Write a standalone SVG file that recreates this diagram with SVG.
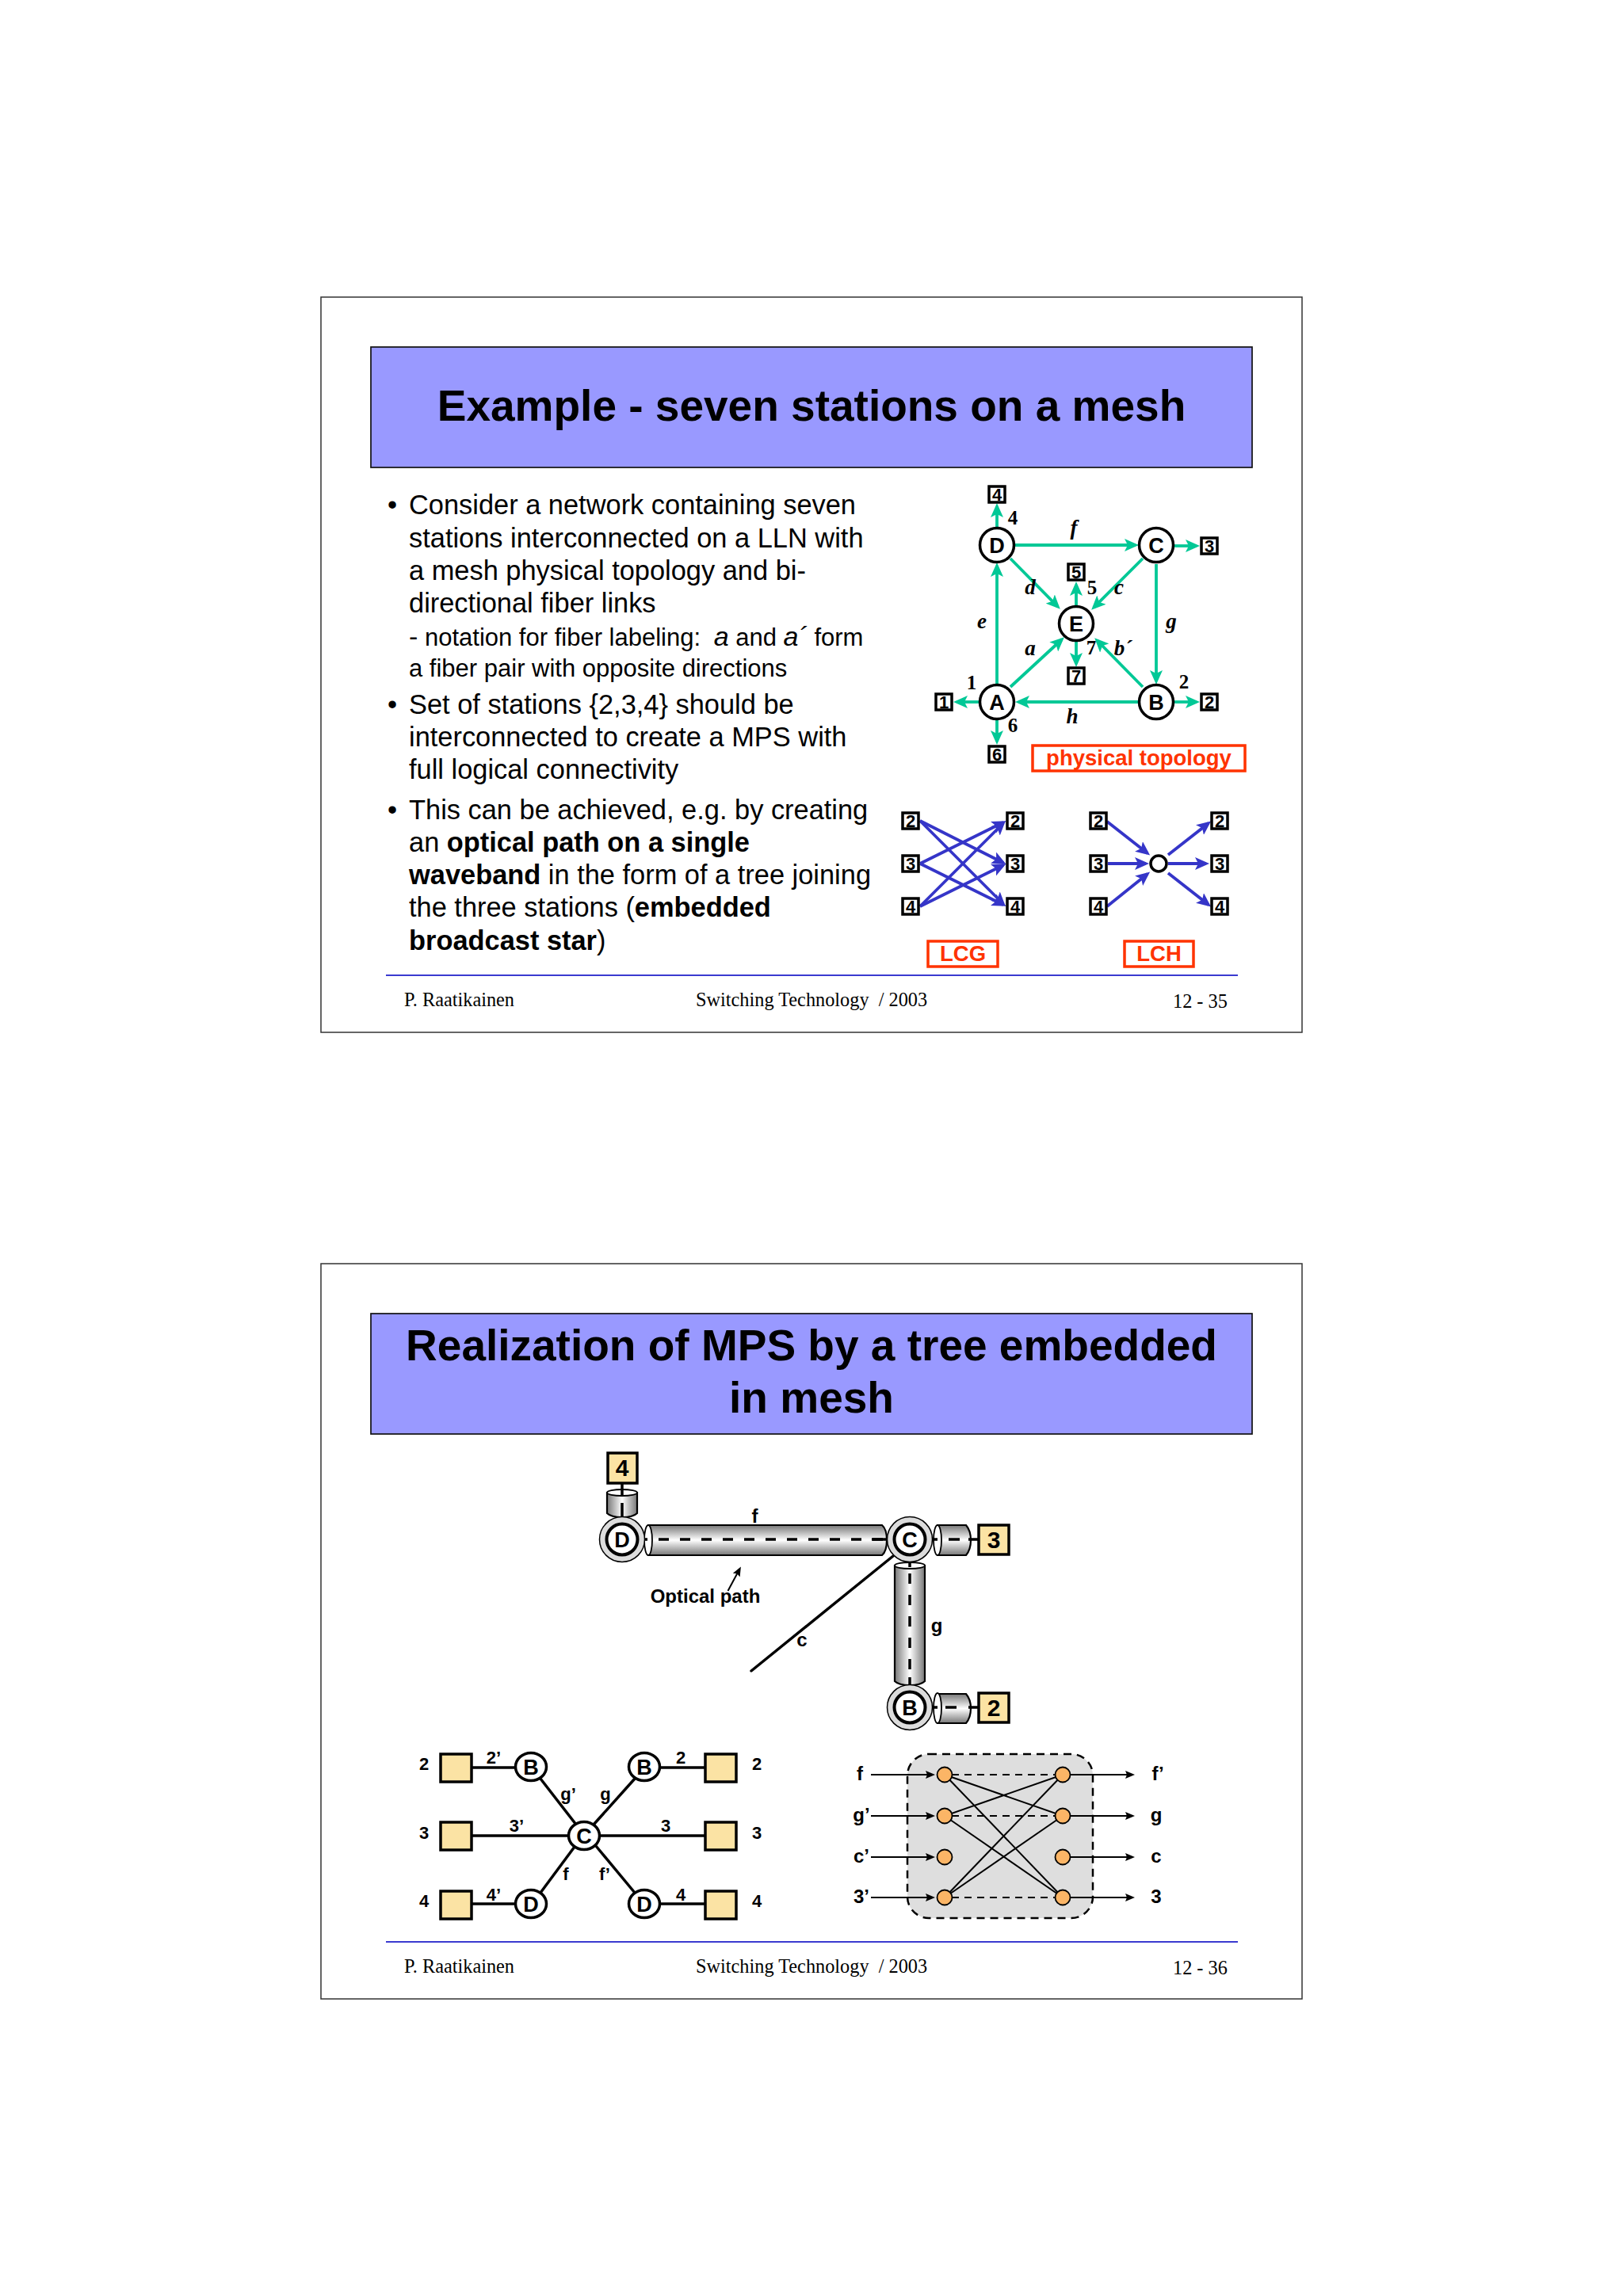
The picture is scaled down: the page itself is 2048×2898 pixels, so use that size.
<svg xmlns="http://www.w3.org/2000/svg" width="2048" height="2898" viewBox="0 0 2048 2898">
<style>
text{font-family:"Liberation Sans",Arial,sans-serif;fill:#000}
.frame{fill:#fff;stroke:#333;stroke-width:1.5}
.tb{fill:#9999ff;stroke:#111;stroke-width:1.7}
.title{font-size:55px;font-weight:700;text-anchor:middle}
.body{font-size:34.4px}
.sub{font-size:31px}
.b{font-weight:700}
.foot{font-family:"Liberation Serif",serif;font-size:24.3px}
.rule{stroke:#3a3ad0;stroke-width:2}
.ln{font-weight:700;font-size:27px;text-anchor:middle}
.sq{fill:#fff;stroke:#000;stroke-width:3.5}
.sqt{font-weight:700;font-size:22px;text-anchor:middle}
.node{fill:#fff;stroke:#000;stroke-width:3.5}
.tag{fill:none;stroke:#ff3300;stroke-width:3.5}
.tagt{font-weight:700;font-size:27.5px;fill:#ff3300;text-anchor:middle}
.gr{stroke:#00c896;stroke-width:3.8;fill:none;marker-end:url(#ag)}
.bl{stroke:#3535c8;stroke-width:3.8;fill:none;marker-end:url(#ab)}
.ti{font-family:"Liberation Serif",serif;font-weight:700;font-style:italic;font-size:27px;text-anchor:middle}
.tn{font-family:"Liberation Serif",serif;font-weight:700;font-size:25px;text-anchor:middle}
.ys{fill:#fbe3a4;stroke:#000;stroke-width:3.5}
.ring{fill:#dcdcdc;stroke:#000;stroke-width:1.5}
.inner{fill:#fff;stroke:#000;stroke-width:4}
.bk{stroke:#000;stroke-width:3.5;fill:none}
.dash{stroke:#000;stroke-width:3.5;fill:none;stroke-dasharray:13 14}
.cyl{stroke:#000;stroke-width:2.2}
.cap{fill:#fff;stroke:#000;stroke-width:1.8}
.lb{font-weight:700;font-size:24px;text-anchor:middle}
.lb2{font-weight:700;font-size:22px;text-anchor:middle}
.thin{stroke:#000;stroke-width:2;fill:none}
.td{stroke:#000;stroke-width:2;fill:none;stroke-dasharray:9 7}
.or{fill:#fbb566;stroke:#000;stroke-width:1.8}
.ar{stroke:#000;stroke-width:2;fill:none;marker-end:url(#ak)}
</style>
<defs>
<marker id="ag" markerUnits="userSpaceOnUse" markerWidth="19" markerHeight="16" refX="14" refY="8" orient="auto"><path d="M0 0L18 8L0 16L4 8Z" fill="#00c896"/></marker>
<marker id="ab" markerUnits="userSpaceOnUse" markerWidth="19" markerHeight="16" refX="14" refY="8" orient="auto"><path d="M0 0L18 8L0 16L4 8Z" fill="#3535c8"/></marker>
<marker id="ak" markerUnits="userSpaceOnUse" markerWidth="13" markerHeight="12" refX="8" refY="6" orient="auto"><path d="M0 1L12 6L0 11L2 6Z" fill="#000"/></marker>
<linearGradient id="gh" x1="0" y1="0" x2="0" y2="1"><stop offset="0" stop-color="#777"/><stop offset=".3" stop-color="#c8c8c8"/><stop offset=".5" stop-color="#fff"/><stop offset=".7" stop-color="#c8c8c8"/><stop offset="1" stop-color="#777"/></linearGradient>
<linearGradient id="gv" x1="0" y1="0" x2="1" y2="0"><stop offset="0" stop-color="#777"/><stop offset=".3" stop-color="#c8c8c8"/><stop offset=".5" stop-color="#fff"/><stop offset=".7" stop-color="#c8c8c8"/><stop offset="1" stop-color="#777"/></linearGradient>
</defs>
<rect width="2048" height="2898" fill="#fff"/>

<g id="slide-35">
<rect class="frame" x="405" y="375" width="1238" height="928"/>
<rect class="tb" x="468" y="438" width="1112" height="152"/>
<text class="title" x="1024" y="531">Example - seven stations on a mesh</text>
<g id="body-35">
<text class="body" x="489" y="649">•</text>
<text class="body" x="516" y="649">Consider a network containing seven</text>
<text class="body" x="516" y="691">stations interconnected on a LLN with</text>
<text class="body" x="516" y="732">a mesh physical topology and bi-</text>
<text class="body" x="516" y="773">directional fiber links</text>
<text class="sub" x="516" y="815"><tspan font-size="34">-</tspan> notation for fiber labeling:  <tspan dx="8" font-style="italic" font-size="34">a</tspan> and <tspan font-style="italic" font-size="34">a´</tspan> form</text>
<text class="sub" x="516" y="854">a fiber pair with opposite directions</text>
<text class="body" x="489" y="901">•</text>
<text class="body" x="516" y="901">Set of stations {2,3,4} should be</text>
<text class="body" x="516" y="942">interconnected to create a MPS with</text>
<text class="body" x="516" y="983">full logical connectivity</text>
<text class="body" x="489" y="1034">•</text>
<text class="body" x="516" y="1034">This can be achieved, e.g. by creating</text>
<text class="body" x="516" y="1075">an <tspan class="b">optical path on a single</tspan></text>
<text class="body" x="516" y="1116"><tspan class="b">waveband</tspan> in the form of a tree joining</text>
<text class="body" x="516" y="1157">the three stations (<tspan class="b">embedded</tspan></text>
<text class="body" x="516" y="1199"><tspan class="b">broadcast star</tspan>)</text>
</g>
<line class="rule" x1="487" y1="1231" x2="1562" y2="1231"/>
<text class="foot" x="510" y="1270">P. Raatikainen</text>
<text class="foot" x="878" y="1270" xml:space="preserve">Switching Technology  / 2003</text>
<text class="foot" x="1480" y="1272">12 - 35</text>
</g>

<g id="connectors-topology">
<line class="gr" x1="1280" y1="688" x2="1433" y2="688"/>
<line class="gr" x1="1258" y1="864" x2="1258" y2="714"/>
<line class="gr" x1="1275" y1="705" x2="1335" y2="766"/>
<line class="gr" x1="1442" y1="705" x2="1380" y2="767"/>
<line class="gr" x1="1275" y1="867" x2="1340" y2="807"/>
<line class="gr" x1="1442" y1="867" x2="1384" y2="808"/>
<line class="gr" x1="1459" y1="712" x2="1459" y2="860"/>
<line class="gr" x1="1436" y1="886" x2="1285" y2="886"/>
<line class="gr" x1="1258" y1="667" x2="1258" y2="639"/>
<line class="gr" x1="1482" y1="689" x2="1510" y2="689"/>
<line class="gr" x1="1358" y1="765" x2="1358" y2="738"/>
<line class="gr" x1="1358" y1="809" x2="1358" y2="838"/>
<line class="gr" x1="1235" y1="886" x2="1207" y2="886"/>
<line class="gr" x1="1482" y1="886" x2="1510" y2="886"/>
<line class="gr" x1="1258" y1="908" x2="1258" y2="936"/>
</g>
<g id="labels-topology">
<text class="ti" x="1355" y="675">f</text><text class="ti" x="1300" y="750">d</text><text class="ti" x="1412" y="750">c</text><text class="ti" x="1239" y="793">e</text><text class="ti" x="1478" y="793">g</text><text class="ti" x="1300" y="827">a</text><text class="ti" x="1417" y="827">b´</text><text class="ti" x="1353" y="913">h</text>
<text class="tn" x="1278" y="662">4</text><text class="tn" x="1378" y="750">5</text><text class="tn" x="1377" y="826">7</text><text class="tn" x="1226" y="870">1</text><text class="tn" x="1494" y="869">2</text><text class="tn" x="1278" y="924">6</text>
</g>
<g id="node-D"><circle class="node" cx="1258" cy="688" r="21.5"/><text class="ln" x="1258" y="697.500">D</text></g>
<g id="node-C"><circle class="node" cx="1459" cy="688" r="21.5"/><text class="ln" x="1459" y="697.500">C</text></g>
<g id="node-E"><circle class="node" cx="1358" cy="787" r="21.5"/><text class="ln" x="1358" y="796.500">E</text></g>
<g id="node-A"><circle class="node" cx="1258" cy="886" r="21.5"/><text class="ln" x="1258" y="895.500">A</text></g>
<g id="node-B"><circle class="node" cx="1459" cy="886" r="21.5"/><text class="ln" x="1459" y="895.500">B</text></g>
<g id="st-4"><rect class="sq" x="1248" y="614" width="20" height="20"/><text class="sqt" x="1258" y="632">4</text></g>
<g id="st-3"><rect class="sq" x="1516" y="679" width="20" height="20"/><text class="sqt" x="1526" y="697">3</text></g>
<g id="st-5"><rect class="sq" x="1348" y="712" width="20" height="20"/><text class="sqt" x="1358" y="730">5</text></g>
<g id="st-7"><rect class="sq" x="1348" y="843" width="20" height="20"/><text class="sqt" x="1358" y="861">7</text></g>
<g id="st-1"><rect class="sq" x="1181" y="876" width="20" height="20"/><text class="sqt" x="1191" y="894">1</text></g>
<g id="st-2"><rect class="sq" x="1516" y="876" width="20" height="20"/><text class="sqt" x="1526" y="894">2</text></g>
<g id="st-6"><rect class="sq" x="1248" y="942" width="20" height="20"/><text class="sqt" x="1258" y="960">6</text></g>
<g id="tag-physical"><rect class="tag" x="1303" y="941" width="268" height="32"/><text class="tagt" x="1437" y="966">physical topology</text></g>

<g id="connectors-lcg">
<line class="bl" x1="1161" y1="1036" x2="1266" y2="1089"/>
<line class="bl" x1="1161" y1="1036" x2="1266" y2="1141"/>
<line class="bl" x1="1161" y1="1090" x2="1266" y2="1038"/>
<line class="bl" x1="1161" y1="1090" x2="1266" y2="1142"/>
<line class="bl" x1="1161" y1="1144" x2="1266" y2="1039"/>
<line class="bl" x1="1161" y1="1144" x2="1266" y2="1092"/>
</g>
<g id="connectors-lch">
<line class="bl" x1="1397" y1="1037" x2="1448" y2="1077"/>
<line class="bl" x1="1398" y1="1090" x2="1446" y2="1090"/>
<line class="bl" x1="1397" y1="1144" x2="1448" y2="1103"/>
<line class="bl" x1="1474" y1="1079" x2="1525" y2="1039"/>
<line class="bl" x1="1474" y1="1090" x2="1522" y2="1090"/>
<line class="bl" x1="1474" y1="1102" x2="1525" y2="1142"/>
</g>
<g id="lcg-l2"><rect class="sq" x="1139" y="1026" width="20" height="20"/><text class="sqt" x="1149" y="1044">2</text></g>
<g id="lcg-l3"><rect class="sq" x="1139" y="1080" width="20" height="20"/><text class="sqt" x="1149" y="1098">3</text></g>
<g id="lcg-l4"><rect class="sq" x="1139" y="1134" width="20" height="20"/><text class="sqt" x="1149" y="1152">4</text></g>
<g id="lcg-r2"><rect class="sq" x="1271" y="1026" width="20" height="20"/><text class="sqt" x="1281" y="1044">2</text></g>
<g id="lcg-r3"><rect class="sq" x="1271" y="1080" width="20" height="20"/><text class="sqt" x="1281" y="1098">3</text></g>
<g id="lcg-r4"><rect class="sq" x="1271" y="1134" width="20" height="20"/><text class="sqt" x="1281" y="1152">4</text></g>
<g id="lch-l2"><rect class="sq" x="1376" y="1026" width="20" height="20"/><text class="sqt" x="1386" y="1044">2</text></g>
<g id="lch-l3"><rect class="sq" x="1376" y="1080" width="20" height="20"/><text class="sqt" x="1386" y="1098">3</text></g>
<g id="lch-l4"><rect class="sq" x="1376" y="1134" width="20" height="20"/><text class="sqt" x="1386" y="1152">4</text></g>
<g id="lch-r2"><rect class="sq" x="1529" y="1026" width="20" height="20"/><text class="sqt" x="1539" y="1044">2</text></g>
<g id="lch-r3"><rect class="sq" x="1529" y="1080" width="20" height="20"/><text class="sqt" x="1539" y="1098">3</text></g>
<g id="lch-r4"><rect class="sq" x="1529" y="1134" width="20" height="20"/><text class="sqt" x="1539" y="1152">4</text></g>
<g id="lch-hub"><circle class="node" cx="1462" cy="1090" r="10"/></g>
<g id="tag-lcg"><rect class="tag" x="1171" y="1188" width="88" height="32"/><text class="tagt" x="1215" y="1213">LCG</text></g>
<g id="tag-lch"><rect class="tag" x="1419" y="1188" width="87" height="32"/><text class="tagt" x="1462.500" y="1213">LCH</text></g>

<g id="slide-36-frame">
<rect class="frame" x="405" y="1595" width="1238" height="928"/>
<rect class="tb" x="468" y="1658" width="1112" height="152"/>
<text class="title" x="1024" y="1717">Realization of MPS by a tree embedded</text>
<text class="title" x="1024" y="1783">in mesh</text>
<line class="rule" x1="487" y1="2451" x2="1562" y2="2451"/>
<text class="foot" x="510" y="2490">P. Raatikainen</text>
<text class="foot" x="878" y="2490" xml:space="preserve">Switching Technology  / 2003</text>
<text class="foot" x="1480" y="2492">12 - 36</text>
</g>

<g id="fibers">
<path class="cyl" fill="url(#gh)" d="M818 1925H1113Q1119 1930 1119 1944Q1119 1958 1113 1963H818Z"/>
<ellipse class="cap" cx="818" cy="1944" rx="5" ry="19"/>
<line class="bk" x1="804" y1="1943" x2="817" y2="1943"/>
<line class="dash" x1="831" y1="1943" x2="1118" y2="1943"/>
<line class="bk" x1="1100" y1="1943" x2="1128" y2="1943"/>
<path class="cyl" fill="url(#gh)" d="M1183 1925H1219Q1225 1932 1225 1944Q1225 1956 1219 1963H1183Z"/>
<ellipse class="cap" cx="1183" cy="1944" rx="5" ry="19"/>
<line class="bk" x1="1168" y1="1943" x2="1183" y2="1943"/>
<line class="bk" x1="1197" y1="1943" x2="1211" y2="1943"/>
<line class="bk" x1="1222" y1="1943" x2="1234" y2="1943"/>
<path class="cyl" fill="url(#gh)" d="M1183 2138H1219Q1225 2145 1225 2156Q1225 2168 1219 2175H1183Z"/>
<ellipse class="cap" cx="1183" cy="2156" rx="5" ry="19"/>
<line class="bk" x1="1168" y1="2155" x2="1183" y2="2155"/>
<line class="bk" x1="1193" y1="2155" x2="1207" y2="2155"/>
<line class="bk" x1="1222" y1="2155" x2="1234" y2="2155"/>
<path class="cyl" fill="url(#gv)" d="M766 1884V1910Q771 1915 785 1915Q799 1915 804 1910V1884Z"/>
<ellipse class="cap" cx="785" cy="1884" rx="19" ry="4"/>
<line class="bk" x1="785" y1="1870" x2="785" y2="1887"/>
<line class="bk" x1="785" y1="1897" x2="785" y2="1918"/>
<path class="cyl" fill="url(#gv)" d="M1129 1976V2122Q1134 2127 1148 2127Q1162 2127 1167 2122V1976Z"/>
<ellipse class="cap" cx="1148" cy="1976" rx="19" ry="4"/>
<line class="bk" x1="1148" y1="1960" x2="1148" y2="1978"/>
<line class="dash" x1="1148" y1="1986" x2="1148" y2="2114"/>
<line class="bk" x1="1148" y1="2117" x2="1148" y2="2135"/>
</g>
<g id="connectors-tree">
<line class="bk" x1="1127" y1="1964" x2="948" y2="2109" stroke-linecap="round"/>
<line class="ar" x1="918.500" y1="2008" x2="933" y2="1981"/>
</g>
<g id="tree-D"><circle class="ring" cx="785" cy="1943" r="28.500"/><circle class="inner" cx="785" cy="1943" r="19.500"/><text class="ln" x="785" y="1952.500">D</text></g>
<g id="tree-C"><circle class="ring" cx="1148" cy="1943" r="28.500"/><circle class="inner" cx="1148" cy="1943" r="19.500"/><text class="ln" x="1148" y="1952.500">C</text></g>
<g id="tree-B"><circle class="ring" cx="1148" cy="2155" r="28.500"/><circle class="inner" cx="1148" cy="2155" r="19.500"/><text class="ln" x="1148" y="2164.500">B</text></g>
<g id="tree-4"><rect class="ys" x="767" y="1834" width="37" height="38"/><text class="lb" x="785" y="1863" style="font-size:30px">4</text></g>
<g id="tree-3"><rect class="ys" x="1235" y="1925" width="38" height="37"/><text class="lb" x="1254" y="1954" style="font-size:30px">3</text></g>
<g id="tree-2"><rect class="ys" x="1235" y="2137" width="38" height="37"/><text class="lb" x="1254" y="2166" style="font-size:30px">2</text></g>
<g id="labels-tree">
<text class="lb" x="952.500" y="1922">f</text><text class="lb" x="1182" y="2060">g</text><text class="lb" x="1012" y="2078">c</text><text class="lb" x="890" y="2023">Optical path</text>
</g>

<g id="connectors-star">
<line class="bk" x1="596" y1="2231" x2="650" y2="2231"/>
<line class="bk" x1="596" y1="2317" x2="717" y2="2317"/>
<line class="bk" x1="596" y1="2403" x2="650" y2="2403"/>
<line class="bk" x1="833" y1="2231" x2="889" y2="2231"/>
<line class="bk" x1="757" y1="2317" x2="889" y2="2317"/>
<line class="bk" x1="833" y1="2403" x2="889" y2="2403"/>
<line class="bk" x1="682" y1="2245" x2="727" y2="2303"/>
<line class="bk" x1="801" y1="2245" x2="749" y2="2303"/>
<line class="bk" x1="682" y1="2389" x2="725" y2="2331"/>
<line class="bk" x1="801" y1="2389" x2="752" y2="2330"/>
</g>
<g id="star-sq-l2"><rect class="ys" x="556" y="2214" width="39" height="35"/></g>
<g id="star-sq-l3"><rect class="ys" x="556" y="2300" width="39" height="35"/></g>
<g id="star-sq-l4"><rect class="ys" x="556" y="2387" width="39" height="35"/></g>
<g id="star-sq-r2"><rect class="ys" x="890" y="2214" width="39" height="35"/></g>
<g id="star-sq-r3"><rect class="ys" x="890" y="2300" width="39" height="35"/></g>
<g id="star-sq-r4"><rect class="ys" x="890" y="2387" width="39" height="35"/></g>
<g id="star-B1"><ellipse class="node" cx="670" cy="2230" rx="19.500" ry="17.500"/><text class="ln" x="670" y="2239.500">B</text></g>
<g id="star-B2"><ellipse class="node" cx="813" cy="2230" rx="19.500" ry="17.500"/><text class="ln" x="813" y="2239.500">B</text></g>
<g id="star-C"><ellipse class="node" cx="737" cy="2317" rx="19.500" ry="17.500"/><text class="ln" x="737" y="2326.500">C</text></g>
<g id="star-D1"><ellipse class="node" cx="670" cy="2403" rx="19.500" ry="17.500"/><text class="ln" x="670" y="2412.500">D</text></g>
<g id="star-D2"><ellipse class="node" cx="813" cy="2403" rx="19.500" ry="17.500"/><text class="ln" x="813" y="2412.500">D</text></g>
<g id="labels-star">
<text class="lb2" x="535" y="2234">2</text><text class="lb2" x="535" y="2321">3</text><text class="lb2" x="535" y="2407">4</text>
<text class="lb2" x="955" y="2234">2</text><text class="lb2" x="955" y="2321">3</text><text class="lb2" x="955" y="2407">4</text>
<text class="lb2" x="623" y="2226">2’</text><text class="lb2" x="652" y="2312">3’</text><text class="lb2" x="623" y="2399">4’</text>
<text class="lb2" x="859" y="2226">2</text><text class="lb2" x="840" y="2312">3</text><text class="lb2" x="859" y="2399">4</text>
<text class="lb2" x="717" y="2272">g’</text><text class="lb2" x="764" y="2272">g</text><text class="lb2" x="714" y="2373">f</text><text class="lb2" x="763" y="2373">f’</text>
</g>

<g id="switch-box"><rect x="1145" y="2214" width="234" height="207" rx="27" fill="#dedede" stroke="#000" stroke-width="2.5" stroke-dasharray="10 7"/></g>
<g id="connectors-switch">
<line class="thin" x1="1192" y1="2240" x2="1341" y2="2292"/><line class="thin" x1="1192" y1="2240" x2="1341" y2="2395"/>
<line class="thin" x1="1192" y1="2292" x2="1341" y2="2240"/><line class="thin" x1="1192" y1="2292" x2="1341" y2="2395"/>
<line class="thin" x1="1192" y1="2395" x2="1341" y2="2240"/><line class="thin" x1="1192" y1="2395" x2="1341" y2="2292"/>
<line class="td" x1="1201" y1="2240" x2="1332" y2="2240"/><line class="td" x1="1201" y1="2292" x2="1332" y2="2292"/><line class="td" x1="1201" y1="2395" x2="1332" y2="2395"/>
<line class="ar" x1="1099" y1="2240" x2="1176" y2="2240"/><line class="ar" x1="1099" y1="2292" x2="1176" y2="2292"/><line class="ar" x1="1099" y1="2344" x2="1176" y2="2344"/><line class="ar" x1="1099" y1="2395" x2="1176" y2="2395"/>
<line class="ar" x1="1350" y1="2240" x2="1428" y2="2240"/><line class="ar" x1="1350" y1="2292" x2="1428" y2="2292"/><line class="ar" x1="1350" y1="2344" x2="1428" y2="2344"/><line class="ar" x1="1350" y1="2395" x2="1428" y2="2395"/>
</g>
<g id="sw-l1"><circle class="or" cx="1192" cy="2240" r="9.500"/></g>
<g id="sw-l2"><circle class="or" cx="1192" cy="2292" r="9.500"/></g>
<g id="sw-l3"><circle class="or" cx="1192" cy="2344" r="9.500"/></g>
<g id="sw-l4"><circle class="or" cx="1192" cy="2395" r="9.500"/></g>
<g id="sw-r1"><circle class="or" cx="1341" cy="2240" r="9.500"/></g>
<g id="sw-r2"><circle class="or" cx="1341" cy="2292" r="9.500"/></g>
<g id="sw-r3"><circle class="or" cx="1341" cy="2344" r="9.500"/></g>
<g id="sw-r4"><circle class="or" cx="1341" cy="2395" r="9.500"/></g>
<g id="labels-switch">
<text class="lb" x="1085" y="2247">f</text><text class="lb" x="1087" y="2299">g’</text><text class="lb" x="1087" y="2351">c’</text><text class="lb" x="1087" y="2402">3’</text>
<text class="lb" x="1461" y="2247">f’</text><text class="lb" x="1459" y="2299">g</text><text class="lb" x="1459" y="2351">c</text><text class="lb" x="1459" y="2402">3</text>
</g>
</svg>
